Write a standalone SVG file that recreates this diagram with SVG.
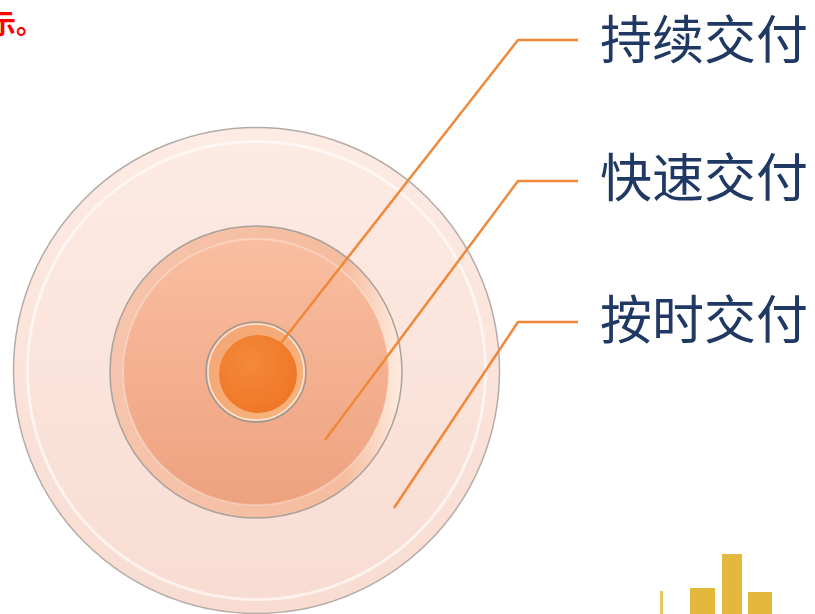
<svg xmlns="http://www.w3.org/2000/svg" width="815" height="614" viewBox="0 0 815 614">
<style>
.lbl{font-family:"Noto Sans CJK SC","Noto Sans",sans-serif;font-size:52px;fill:#1F3864;}
.conn{fill:none;stroke:#F0883A;stroke-width:2.5;stroke-linejoin:round;}
.bar{fill:#E3B83C;}
</style>
<defs>
<linearGradient id="gOuter" x1="0" y1="0" x2="0" y2="1">
<stop offset="0" stop-color="#FDEBE4"/><stop offset="1" stop-color="#F8DCD1"/>
</linearGradient>
<linearGradient id="gMid" x1="0" y1="0" x2="0" y2="1">
<stop offset="0" stop-color="#F9BEA0"/><stop offset="1" stop-color="#EEA27F"/>
</linearGradient>
<linearGradient id="gMidRim" x1="0" y1="0" x2="1" y2="0">
<stop offset="0" stop-color="#F6C4AC"/><stop offset="0.8" stop-color="#F5BC9E"/><stop offset="1" stop-color="#FFEDE0"/>
</linearGradient>
<radialGradient id="gCore" cx="0.4" cy="0.35" r="0.7">
<stop offset="0" stop-color="#F5893A"/><stop offset="1" stop-color="#EE7626"/>
</radialGradient>
<linearGradient id="gCoreRim" x1="0" y1="0" x2="1" y2="1">
<stop offset="0" stop-color="#F3A574"/><stop offset="1" stop-color="#F8B57C"/>
</linearGradient>
</defs>
<rect width="815" height="614" fill="#FFFFFF"/>
<text x="-11" y="34" font-family="'Noto Sans CJK SC',sans-serif" font-size="27" font-weight="bold" fill="#FF0000">示。</text>
<g id="ring-outer">
<circle cx="256.5" cy="370.5" r="243" fill="url(#gOuter)" stroke="#B5ACA8" stroke-width="1.5"/>
<circle cx="256.5" cy="370.5" r="229" fill="none" stroke="#FFFFFF" stroke-opacity="0.6" stroke-width="3"/>
</g>
<g id="ring-middle">
<circle cx="256" cy="372" r="146" fill="url(#gMidRim)" stroke="#A9A19D" stroke-width="1.5"/>
<circle cx="256" cy="372" r="133" fill="url(#gMid)"/>
<circle cx="256" cy="372" r="133" fill="none" stroke="#FFFFFF" stroke-opacity="0.3" stroke-width="2"/>
</g>
<g id="ring-core">
<circle cx="256" cy="372" r="50" fill="url(#gCoreRim)" stroke="#A09894" stroke-width="1.5"/>
<circle cx="256" cy="372" r="48" fill="none" stroke="#FFFFFF" stroke-opacity="0.7" stroke-width="1.5"/>
<circle cx="258" cy="374" r="39" fill="url(#gCore)"/>
</g>
<g id="connectors">
<polyline class="conn" points="578,40 518,40 281,343"/>
<line x1="281" y1="343" x2="258" y2="372" stroke="#F0883A" stroke-width="2" stroke-opacity="0.3"/>
<polyline class="conn" points="578,181 518,181 325,440"/>
<polyline class="conn" points="578,322 518,322 394,508"/>
</g>
<g id="label-1"><text class="lbl" x="600" y="59">持续交付</text></g>
<g id="label-2"><text class="lbl" x="600" y="197">快速交付</text></g>
<g id="label-3"><text class="lbl" x="600" y="339">按时交付</text></g>
<g id="bars">
<rect class="bar" x="660" y="591" width="3" height="23" opacity="0.8"/>
<rect class="bar" x="690" y="588" width="25" height="26"/>
<rect class="bar" x="722" y="554" width="20" height="60"/>
<rect class="bar" x="748" y="592" width="24" height="22"/>
</g>
</svg>
